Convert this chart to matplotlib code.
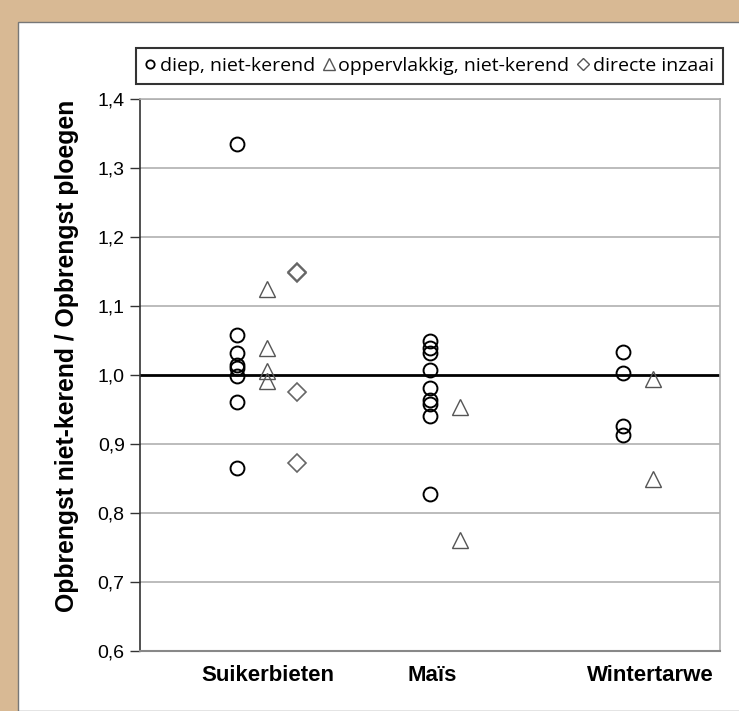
import numpy as np
import matplotlib.pyplot as plt
from matplotlib.lines import Line2D
from matplotlib.patches import Rectangle

# opbrengstverhouding niet-kerend / ploegen per gewas en methode
crops = ['Suikerbieten', 'Maïs', 'Wintertarwe']
crop_pos = [1.0, 2.0, 3.0]
label_pos = [1.16, 2.01, 3.14]

diep_suiker = [1.335, 1.058, 1.032, 1.014, 1.010, 0.998, 0.961, 0.865]
diep_mais = [1.049, 1.039, 1.032, 1.007, 0.981, 0.964, 0.958, 0.941, 0.828]
diep_tarwe = [1.033, 1.003, 0.926, 0.913]

opp_suiker = [1.124, 1.039, 1.006, 0.991]
opp_mais = [0.954, 0.761]
opp_tarwe = [0.994, 0.849]

direct_suiker = [1.150, 1.148, 0.976, 0.872]

yticks = [0.6, 0.7, 0.8, 0.9, 1.0, 1.1, 1.2, 1.3, 1.4]

offset_opp = 0.155
offset_direct = 0.31

fig = plt.figure(figsize=(7.39, 7.11), dpi=100)
fig.patch.set_facecolor('#d8b994')
# witte binnenvlak binnen de bruine rand
fig.patches.append(Rectangle((18 / 739, 0), 1, 1 - 22 / 711, transform=fig.transFigure,
                             facecolor='white', edgecolor='#777777', linewidth=1.0, zorder=-10))

ax = fig.add_axes([140 / 739, 1 - 651 / 711, 580 / 739, 552 / 711])
ax.set_zorder(1)
ax.set_xlim(0.5, 3.5)
ax.set_ylim(0.6, 1.4)

for y in yticks[1:]:
    if y == 1.0:
        ax.axhline(y, color='black', linewidth=2.0, zorder=1)
    else:
        ax.axhline(y, color='#b0b0b0', linewidth=1.2, zorder=1)

circle_kw = dict(linestyle='none', marker='o', markersize=10, markerfacecolor='none',
                 markeredgecolor='black', markeredgewidth=1.4, zorder=3)
tri_kw = dict(linestyle='none', marker='^', markersize=12, markerfacecolor='none',
              markeredgecolor='#555555', markeredgewidth=1.0, zorder=3)
dia_kw = dict(linestyle='none', marker='D', markersize=9, markerfacecolor='none',
              markeredgecolor='#666666', markeredgewidth=1.2, zorder=3)

for x, vals in zip(crop_pos, [diep_suiker, diep_mais, diep_tarwe]):
    ax.plot([x] * len(vals), vals, **circle_kw)
for x, vals in zip(crop_pos, [opp_suiker, opp_mais, opp_tarwe]):
    ax.plot([x + offset_opp] * len(vals), vals, **tri_kw)
ax.plot([crop_pos[0] + offset_direct] * len(direct_suiker), direct_suiker, **dia_kw)

ax.set_yticks(yticks)
ax.set_yticklabels([f'{v:.1f}'.replace('.', ',') for v in yticks],
                   fontsize=14, family='Liberation Sans')
ax.tick_params(axis='y', length=7, width=1.0, color='#333333', pad=4)
ax.set_xticks(label_pos)
ax.set_xticklabels(crops, fontsize=16, fontweight='bold', family='Liberation Sans')
ax.tick_params(axis='x', length=0, pad=10)

ax.set_ylabel('Opbrengst niet-kerend / Opbrengst ploegen', fontsize=17.8,
              fontweight='bold', family='Liberation Sans')
ax.yaxis.set_label_coords(-0.105, 0.534)

ax.spines['left'].set_color('#333333')
ax.spines['left'].set_linewidth(1.2)
ax.spines['bottom'].set_color('#888888')
ax.spines['bottom'].set_linewidth(1.5)
for side in ['top', 'right']:
    ax.spines[side].set_color('#b0b0b0')
    ax.spines[side].set_linewidth(1.2)

handles = [
    Line2D([], [], linestyle='none', marker='o', markersize=6, markerfacecolor='none',
           markeredgecolor='black', markeredgewidth=1.3),
    Line2D([], [], linestyle='none', marker='^', markersize=8, markerfacecolor='none',
           markeredgecolor='#555555', markeredgewidth=1.0),
    Line2D([], [], linestyle='none', marker='D', markersize=6, markerfacecolor='none',
           markeredgecolor='#555555', markeredgewidth=1.0),
]
labels = ['diep, niet-kerend', 'oppervlakkig, niet-kerend', 'directe inzaai']
leg = fig.legend(handles, labels, loc='center', ncol=3,
                 bbox_to_anchor=((137 + 722) / 2 / 739, 1 - 66 / 711),
                 frameon=True, fancybox=False, handlelength=0.5, handletextpad=0.25,
                 columnspacing=0.45, borderpad=0.45, prop={'family': 'Open Sans', 'size': 14})
leg.get_frame().set_edgecolor('black')
leg.get_frame().set_linewidth(1.5)

fig.savefig('out.png', dpi=100, facecolor=fig.get_facecolor())
